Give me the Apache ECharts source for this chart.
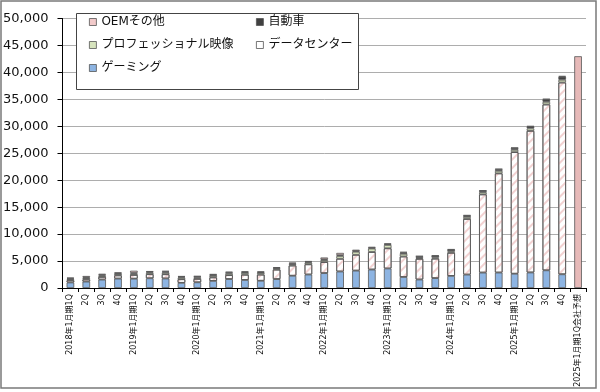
<!DOCTYPE html>
<html>
<head>
<meta charset="utf-8">
<script src="https://cdn.jsdelivr.net/npm/echarts@6/dist/echarts.min.js"></script>
<style>
html,body{margin:0;padding:0;background:#fff;}
#chart{width:600px;height:392px;}
</style>
</head>
<body>
<div id="chart"></div>
<script>
const categories = [
  '2018年1月期1Q','2Q','3Q','4Q',
  '2019年1月期1Q','2Q','3Q','4Q',
  '2020年1月期1Q','2Q','3Q','4Q',
  '2021年1月期1Q','2Q','3Q','4Q',
  '2022年1月期1Q','2Q','3Q','4Q',
  '2023年1月期1Q','2Q','3Q','4Q',
  '2024年1月期1Q','2Q','3Q','4Q',
  '2025年1月期1Q','2Q','3Q','4Q',
  '2025年1月期1Q会社予想'
];
const gaming = [1027,1186,1561,1739, 1723,1805,1764,954, 1055,1313,1659,1491, 1339,1654,2271,2495, 2760,3061,3221,3420, 3620,2042,1574,1831, 2240,2486,2856,2865, 2647,2880,3279,2544, null];
const dataCenter = [409,416,501,606, 701,760,792,679, 634,655,726,968, 1141,1752,1900,1903, 2048,2366,2936,3263, 3750,3806,3833,3616, 4284,10323,14514,18404, 22563,26272,30771,35580, null];
const proViz = [205,235,239,254, 251,281,305,293, 266,291,324,331, 307,203,236,307, 372,519,577,643, 622,496,200,226, 295,379,416,463, 427,454,486,511, null];
const automotive = [140,142,144,132, 145,161,172,163, 166,209,162,163, 155,111,125,145, 154,152,135,125, 138,220,251,294, 296,253,261,281, 329,346,449,570, null];
const oemOther = [156,251,191,180, 387,116,148,116, 99,111,143,152, 138,146,194,153, 327,409,234,192, 158,140,73,84, 77,66,73,90, 78,88,97,126, null];
const forecast = [null,null,null,null, null,null,null,null, null,null,null,null, null,null,null,null, null,null,null,null, null,null,null,null, null,null,null,null, null,null,null,null, 43000];
const yTicks = {min: 0, max: 50000, interval: 5000};

const chart = echarts.init(document.getElementById('chart'));
const border = {borderColor: '#555', borderWidth: 0.8};
function bar(name, data, color, extra) {
  return Object.assign({
    name: name, type: 'bar', stack: 'total', data: data, barWidth: '48%',
    itemStyle: Object.assign({color: color}, border),
    emphasis: {disabled: true}
  }, extra || {});
}
const FONT = 'DejaVu Sans, Noto Sans CJK JP, sans-serif';
const legendText = {fontSize: 12, color: '#111', fontFamily: FONT, lineHeight: 14};
const legendItem = {decal: 'none', borderColor: '#555', borderWidth: 0.8};
chart.setOption({
  animation: false,
  backgroundColor: '#fff',
  grid: {left: 62, right: 14, top: 18.5, bottom: 104},
  graphic: [
    {type: 'rect', z: -10, shape: {x: 1, y: 1, width: 595, height: 387}, style: {fill: '#fff', stroke: '#7a7a7a', lineWidth: 1.5}},
    {type: 'rect', z: 3, shape: {x: 76.5, y: 13.5, width: 282, height: 76}, style: {fill: '#fff', stroke: '#444', lineWidth: 1}}
  ],
  legend: [
    {data: ['OEMその他', 'プロフェッショナル映像', 'ゲーミング'], orient: 'vertical', left: 89, top: 15, padding: 0,
     itemWidth: 7, itemHeight: 7, itemGap: 9, icon: 'rect', textStyle: legendText, itemStyle: legendItem, z: 10},
    {data: ['自動車', 'データセンター'], orient: 'vertical', left: 256, top: 15, padding: 0,
     itemWidth: 7, itemHeight: 7, itemGap: 9, icon: 'rect', textStyle: legendText, itemStyle: legendItem, z: 10}
  ],
  xAxis: {
    type: 'category', data: categories,
    axisLine: {lineStyle: {color: '#000', width: 1}},
    axisTick: {show: true, length: 4, lineStyle: {color: '#000'}},
    axisLabel: {rotate: 90, interval: 0, fontSize: 8, fontFamily: FONT, color: '#111', margin: 6}
  },
  yAxis: {
    type: 'value', min: yTicks.min, max: yTicks.max, interval: yTicks.interval,
    axisLine: {show: true, lineStyle: {color: '#000', width: 1}},
    axisTick: {show: true, length: 5, lineStyle: {color: '#000'}},
    axisLabel: {fontSize: 13, fontFamily: FONT, color: '#111', margin: 14,
      formatter: v => v.toLocaleString('en-US')},
    splitLine: {lineStyle: {color: '#adadad', width: 1}}
  },
  series: [
    bar('ゲーミング', gaming, '#8db4e2'),
    bar('データセンター', dataCenter, '#ffffff', {itemStyle: Object.assign({color: '#ffffff',
      decal: {symbol: 'rect', symbolSize: 1, dashArrayX: [1, 0], dashArrayY: [1.5, 3.5], rotation: -Math.PI / 4, color: 'rgba(230,165,165,0.5)'}}, border)}),
    bar('プロフェッショナル映像', proViz, '#d7e4bd'),
    bar('自動車', automotive, '#404040'),
    bar('OEMその他', oemOther, '#f2caca'),
    bar('会社予想', forecast, '#e6b9b8')
  ]
});
</script>
</body>
</html>
